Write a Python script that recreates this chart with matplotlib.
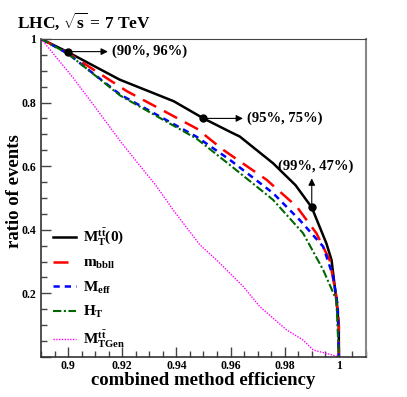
import matplotlib
matplotlib.use("Agg")
import matplotlib.pyplot as plt
from matplotlib.ticker import MultipleLocator, FuncFormatter

# curves
mt0_x = [0.89, 0.90, 0.919, 0.939, 0.95, 0.96, 0.9634, 0.9757, 0.984, 0.99, 0.9954, 0.9973, 0.9991, 1.0, 1.0]
mt0_y = [1.0, 0.958, 0.872, 0.804, 0.75, 0.707, 0.693, 0.609, 0.54, 0.47, 0.357, 0.305, 0.179, 0.1, 0.0]

mbbll_x = [0.89, 0.90, 0.9216, 0.9475, 0.9573, 0.9733, 0.9844, 0.9917, 0.9966, 0.9991, 1.0, 1.0]
mbbll_y = [1.0, 0.955, 0.836, 0.718, 0.651, 0.557, 0.473, 0.389, 0.305, 0.19, 0.1, 0.0]

meff_x = [0.89, 0.90, 0.9192, 0.9475, 0.9597, 0.9757, 0.9856, 0.9942, 0.9979, 0.9996, 1.0]
meff_y = [1.0, 0.953, 0.825, 0.692, 0.62, 0.515, 0.43, 0.347, 0.253, 0.16, 0.0]

ht_x = [0.89, 0.90, 0.9192, 0.9475, 0.9597, 0.9757, 0.9868, 0.9942, 0.9991, 1.0]
ht_y = [1.0, 0.953, 0.822, 0.686, 0.604, 0.494, 0.389, 0.274, 0.179, 0.0]

mtgen_x = [0.89, 0.9019, 0.91, 0.92, 0.9327, 0.9388, 0.9487, 0.9548, 0.9647,
           0.9708, 0.9807, 0.9868, 0.9905, 0.9997]
mtgen_y = [1.0, 0.877, 0.785, 0.67, 0.536, 0.462, 0.352, 0.305, 0.221,
           0.158, 0.085, 0.053, 0.022, 0.001]

marked_x = [0.90, 0.95, 0.99]
marked_y = [0.96, 0.75, 0.47]
marked_text = ["(90%, 96%)", "(95%, 75%)", "(99%, 47%)"]

plt.rcParams["font.family"] = "Liberation Serif"
plt.rcParams["font.weight"] = "bold"
plt.rcParams["axes.labelweight"] = "bold"
plt.rcParams["mathtext.fontset"] = "custom"
plt.rcParams["mathtext.rm"] = "Liberation Serif:bold"
plt.rcParams["mathtext.it"] = "Liberation Serif:bold"
plt.rcParams["mathtext.bf"] = "Liberation Serif:bold"

fig = plt.figure(figsize=(4.07, 3.97), dpi=100)
ax = fig.add_axes([0.101, 0.101, 0.798, 0.801])

ax.plot(mt0_x, mt0_y, color="black", lw=1.8, label=r"$\mathrm{M_T^{t\bar{t}}(0)}$")
ax.plot(mbbll_x, mbbll_y, color="red", lw=1.8, dashes=(6, 3.5), label=r"$\mathrm{m_{bbll}}$")
ax.plot(meff_x, meff_y, color="blue", lw=1.8, dashes=(2.5, 2), label=r"$\mathrm{M_{eff}}$")
ax.plot(ht_x, ht_y, color="#006600", lw=1.5, dashes=(4, 1.2, 1, 1.2), label=r"$\mathrm{H_T}$")
ax.plot(mtgen_x, mtgen_y, color="#ff00ff", lw=1.0, ls=(0, (1, 1)),
        label=r"$\mathrm{M_{TGen}^{t\bar{t}}}$")

ax.plot(marked_x, marked_y, "o", color="black", ms=5, zorder=5)

# horizontal arrows for the first two points, vertical for the last
ax.annotate("", xy=(0.9157, 0.96), xytext=(0.90, 0.96),
            arrowprops=dict(arrowstyle="-|>", color="black", lw=0.8))
ax.text(0.9162, 0.96, marked_text[0], fontsize=10.5, va="center", ha="left")
ax.annotate("", xy=(0.9656, 0.75), xytext=(0.95, 0.75),
            arrowprops=dict(arrowstyle="-|>", color="black", lw=0.8))
ax.text(0.9661, 0.75, marked_text[1], fontsize=10.5, va="center", ha="left")
ax.annotate("", xy=(0.99, 0.57), xytext=(0.99, 0.47),
            arrowprops=dict(arrowstyle="-|>", color="black", lw=0.8))
ax.text(0.9915, 0.598, marked_text[2], fontsize=10.5, va="center", ha="center")

ax.set_xlim(0.89, 1.01)
ax.set_ylim(0.0, 1.0)
ax.xaxis.set_major_locator(MultipleLocator(0.02))
ax.xaxis.set_minor_locator(MultipleLocator(0.005))
ax.yaxis.set_major_locator(MultipleLocator(0.2))
ax.yaxis.set_minor_locator(MultipleLocator(0.05))
fmt = FuncFormatter(lambda v, p: "" if abs(v) < 1e-9 else "%g" % round(v, 3))
ax.xaxis.set_major_formatter(fmt)
ax.yaxis.set_major_formatter(fmt)
ax.tick_params(which="both", direction="in", top=False, right=False, labelsize=8.5, color="#444444")
ax.tick_params(which="major", length=7, width=1)
ax.tick_params(which="minor", length=4, width=1)
ax.tick_params(axis="x", pad=2)

for side in ["left", "bottom"]:
    ax.spines[side].set_color("#333333")
    ax.spines[side].set_linewidth(1.2)
ax.spines["top"].set_color("#444444")
ax.spines["top"].set_linewidth(0.8)
ax.spines["right"].set_color("#888888")
ax.spines["right"].set_linewidth(1.5)

ax.set_xlabel("combined method efficiency", fontsize=13.5, va="center")
ax.xaxis.set_label_coords(0.5, -0.075)
ax.set_ylabel("ratio of events", fontsize=13.5, va="center")
ax.yaxis.set_label_coords(-0.083, 0.52)

fig.text(0.042, 0.945, r"LHC, $\sqrt{\mathrm{s}}$ = 7 TeV", fontsize=12.5, va="center", ha="left")

ax.legend(loc="lower left", bbox_to_anchor=(0.003, -0.012), frameon=False, fontsize=11,
          handlelength=1.5, handletextpad=0.45, labelspacing=0.55, borderaxespad=0.3)

fig.savefig("out.png", dpi=100)
